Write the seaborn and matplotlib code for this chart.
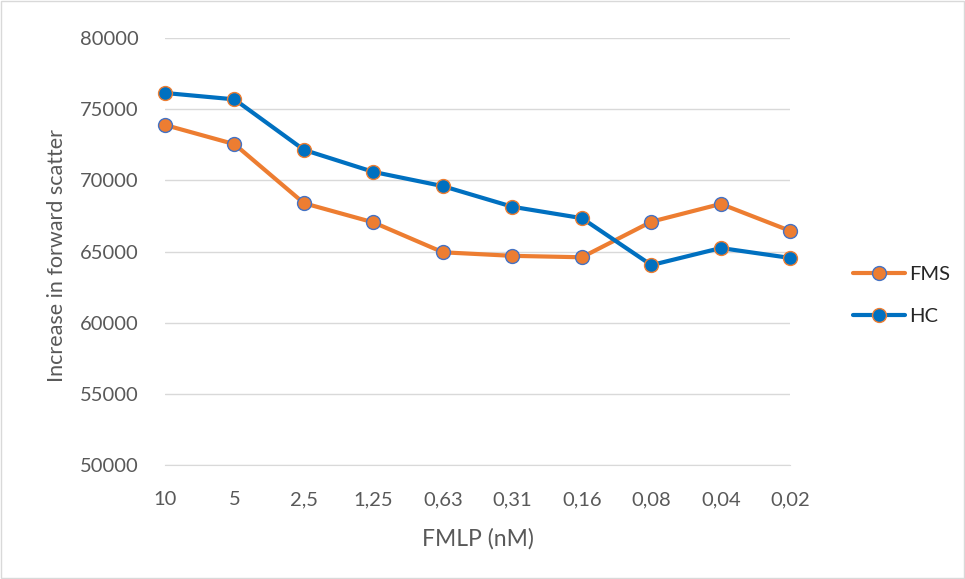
import matplotlib
matplotlib.use("Agg")
import matplotlib.pyplot as plt
import seaborn as sns
import pandas as pd
import numpy as np
from matplotlib.patches import Rectangle
from matplotlib.lines import Line2D

categories = ["10", "5", "2,5", "1,25", "0,63", "0,31", "0,16", "0,08", "0,04", "0,02"]
fms = [73900, 72550, 68400, 67050, 64950, 64700, 64600, 67100, 68350, 66450]
hc = [76150, 75700, 72150, 70600, 69600, 68150, 67350, 64050, 65250, 64550]
series_names = ["FMS", "HC"]

colors = {"FMS": "#ED7D31", "HC": "#0070C0"}
edges = {"FMS": "#4472C4", "HC": "#ED7D31"}

df = pd.DataFrame({
    "pos": list(range(len(categories))) * 2,
    "value": fms + hc,
    "series": ["FMS"] * len(fms) + ["HC"] * len(hc),
})

sns.set_style("white")
plt.rcParams["font.family"] = ["Lato", "DejaVu Sans"]

fig = plt.figure(figsize=(9.65, 5.79), dpi=100)
ax = fig.add_axes([0.171, 0.197, 0.648, 0.737])

sns.lineplot(data=df, x="pos", y="value", hue="series", palette=colors,
             hue_order=series_names, marker="o", markersize=10, linewidth=3.0,
             ax=ax, legend=False, clip_on=False, zorder=3)

for line, name in zip(ax.get_lines(), series_names):
    line.set_markerfacecolor(colors[name])
    line.set_markeredgecolor(edges[name])
    line.set_markeredgewidth(1.0)
    line.set_solid_capstyle("round")

ax.set_ylim(50000, 80000)
ax.set_yticks(np.arange(50000, 80001, 5000))
ax.set_xlim(0, len(categories) - 1)
ax.set_xticks(range(len(categories)))
ax.set_xticklabels(categories)
ax.yaxis.grid(True, color="#D9D9D9", linewidth=1)
ax.xaxis.grid(False)
for s in ax.spines.values():
    s.set_visible(False)
ax.spines["bottom"].set_visible(True)
ax.spines["bottom"].set_color("#D9D9D9")
ax.tick_params(axis="both", length=0, labelsize=14.5, colors="#595959")
ax.tick_params(axis="x", pad=19)
ax.tick_params(axis="y", pad=19)
ax.set_xlabel("FMLP (nM)", fontsize=16.5, color="#595959", labelpad=14)
ax.set_ylabel("Increase in forward scatter", fontsize=15.5, color="#595959")
ax.yaxis.set_label_coords(-0.157, 0.49)

handles = [Line2D([0], [0], color=colors[n], linewidth=3.0, marker="o", markersize=10,
                  markerfacecolor=colors[n], markeredgecolor=edges[n], solid_capstyle="round")
           for n in series_names]
fig.legend(handles, series_names, loc="center left", bbox_to_anchor=(0.865, 0.49),
           frameon=False, fontsize=14.5, handlelength=2.6, labelspacing=1.25,
           handletextpad=0.2)

fig.patches.append(Rectangle((0.001, 0.001), 0.998, 0.998, transform=fig.transFigure,
                             fill=False, edgecolor="#D9D9D9", linewidth=1))

fig.savefig("out.png", dpi=100)
